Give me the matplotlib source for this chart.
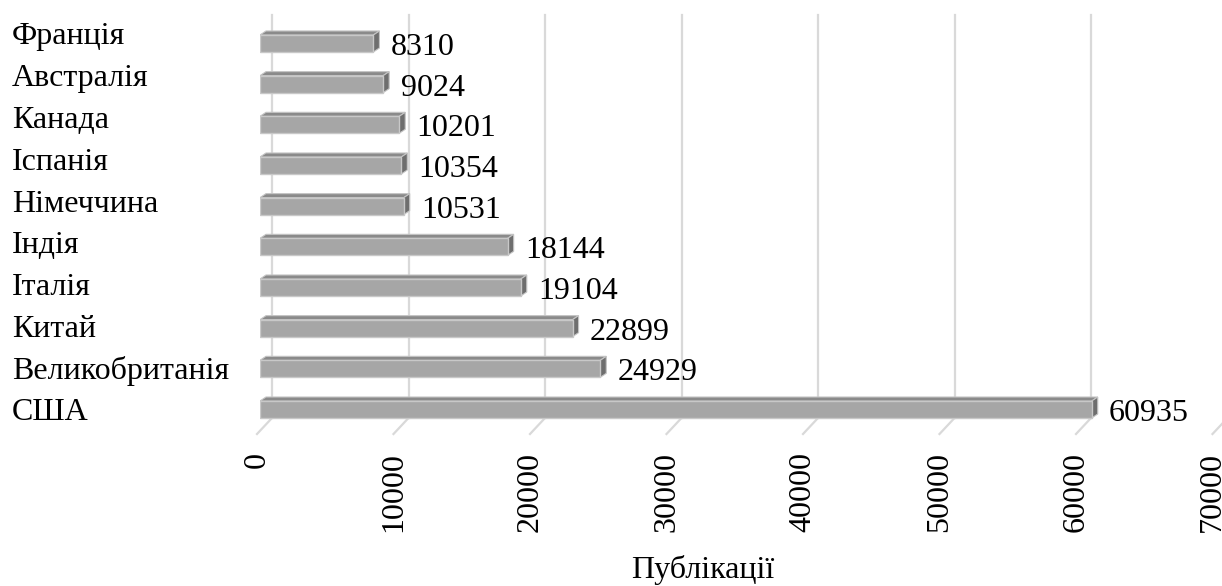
import matplotlib.pyplot as plt
from matplotlib.patches import Polygon
from matplotlib.transforms import ScaledTranslation
import numpy as np

countries = ["США", "Великобританія", "Китай", "Італія", "Індія",
             "Німеччина", "Іспанія", "Канада", "Австралія", "Франція"]
publications = [60935, 24929, 22899, 19104, 18144,
                10531, 10354, 10201, 9024, 8310]
x_ticks = [0, 10000, 20000, 30000, 40000, 50000, 60000, 70000]
x_label = "Публікації"

plt.rcParams["font.family"] = ["Liberation Serif", "DejaVu Serif"]
FS = 23

W, H, DPI = 1222, 586, 100
fig = plt.figure(figsize=(W / DPI, H / DPI), dpi=DPI)

# plot area in pixels
left_px, right_px, top_px, bottom_px = 260, 1222, 15, 434
ax = fig.add_axes([left_px / W, 1 - bottom_px / H,
                   (right_px - left_px) / W, (bottom_px - top_px) / H])

px_x = 136.5 / 10000          # pixels per data unit (x)
px_y = 40.67                  # pixels per category
y0_px = 409.5                 # centre of first bar
ax.set_xlim(0, (right_px - left_px) / px_x)
ax.set_ylim(-(bottom_px - y0_px) / px_y, (y0_px - top_px) / px_y)
for s in ax.spines.values():
    s.set_visible(False)

ypos = np.arange(len(countries))

# back wall gridlines + floor slants
grid_dx = 12 / px_x
grid_bottom = -(418 - y0_px) / px_y
floor_dx = -3 / px_x
floor_y = ax.get_ylim()[0]
for t in x_ticks:
    ax.plot([t + grid_dx, t + grid_dx], [grid_bottom, ax.get_ylim()[1]],
            color="#d9d9d9", lw=1.6, zorder=1, clip_on=False)
    ax.plot([t + grid_dx, t + floor_dx], [grid_bottom, floor_y],
            color="#d9d9d9", lw=1.6, zorder=1, clip_on=False)

# 3D bars
bar_h = 17 / px_y
ddx = 6 / px_x
ddy = 4 / px_y
for y, v in zip(ypos, publications):
    top = y + bar_h / 2
    bot = y - bar_h / 2
    ax.add_patch(Polygon([[0, top], [v, top], [v + ddx, top + ddy], [ddx, top + ddy]],
                         closed=True, facecolor="#8a8a8a", edgecolor="#c4c4c4",
                         lw=0.8, zorder=3))
    ax.add_patch(Polygon([[v, bot], [v + ddx, bot + ddy], [v + ddx, top + ddy], [v, top]],
                         closed=True, facecolor="#6e6e6e", edgecolor="#c4c4c4",
                         lw=0.8, zorder=3))
    ax.barh(y, v, height=bar_h, left=0, color="#a6a6a6", edgecolor="#c8c8c8",
            lw=1.0, zorder=4)
    ax.annotate(str(v), xy=(v, y), xytext=(12.5, -3), textcoords="offset points",
                ha="left", va="center", fontsize=FS, zorder=5)

# category labels (slightly different perspective spacing)
label_scale = 41.8 / px_y
ax.set_yticks(ypos * label_scale, countries, fontsize=FS, ha="left")
ax.tick_params(axis="y", length=0, pad=(left_px - 12) / DPI * 72)

ax.set_xticks(x_ticks, [str(t) for t in x_ticks], rotation=90, fontsize=FS)
ax.tick_params(axis="x", length=0, pad=13)
shift = ScaledTranslation(-3 / DPI, 0, fig.dpi_scale_trans)
for lab in ax.get_xticklabels():
    lab.set_transform(lab.get_transform() + shift)

fig.text(703 / W, 1 - 570 / H, x_label, ha="center", va="center", fontsize=FS)

fig.savefig("out.png", dpi=DPI)
